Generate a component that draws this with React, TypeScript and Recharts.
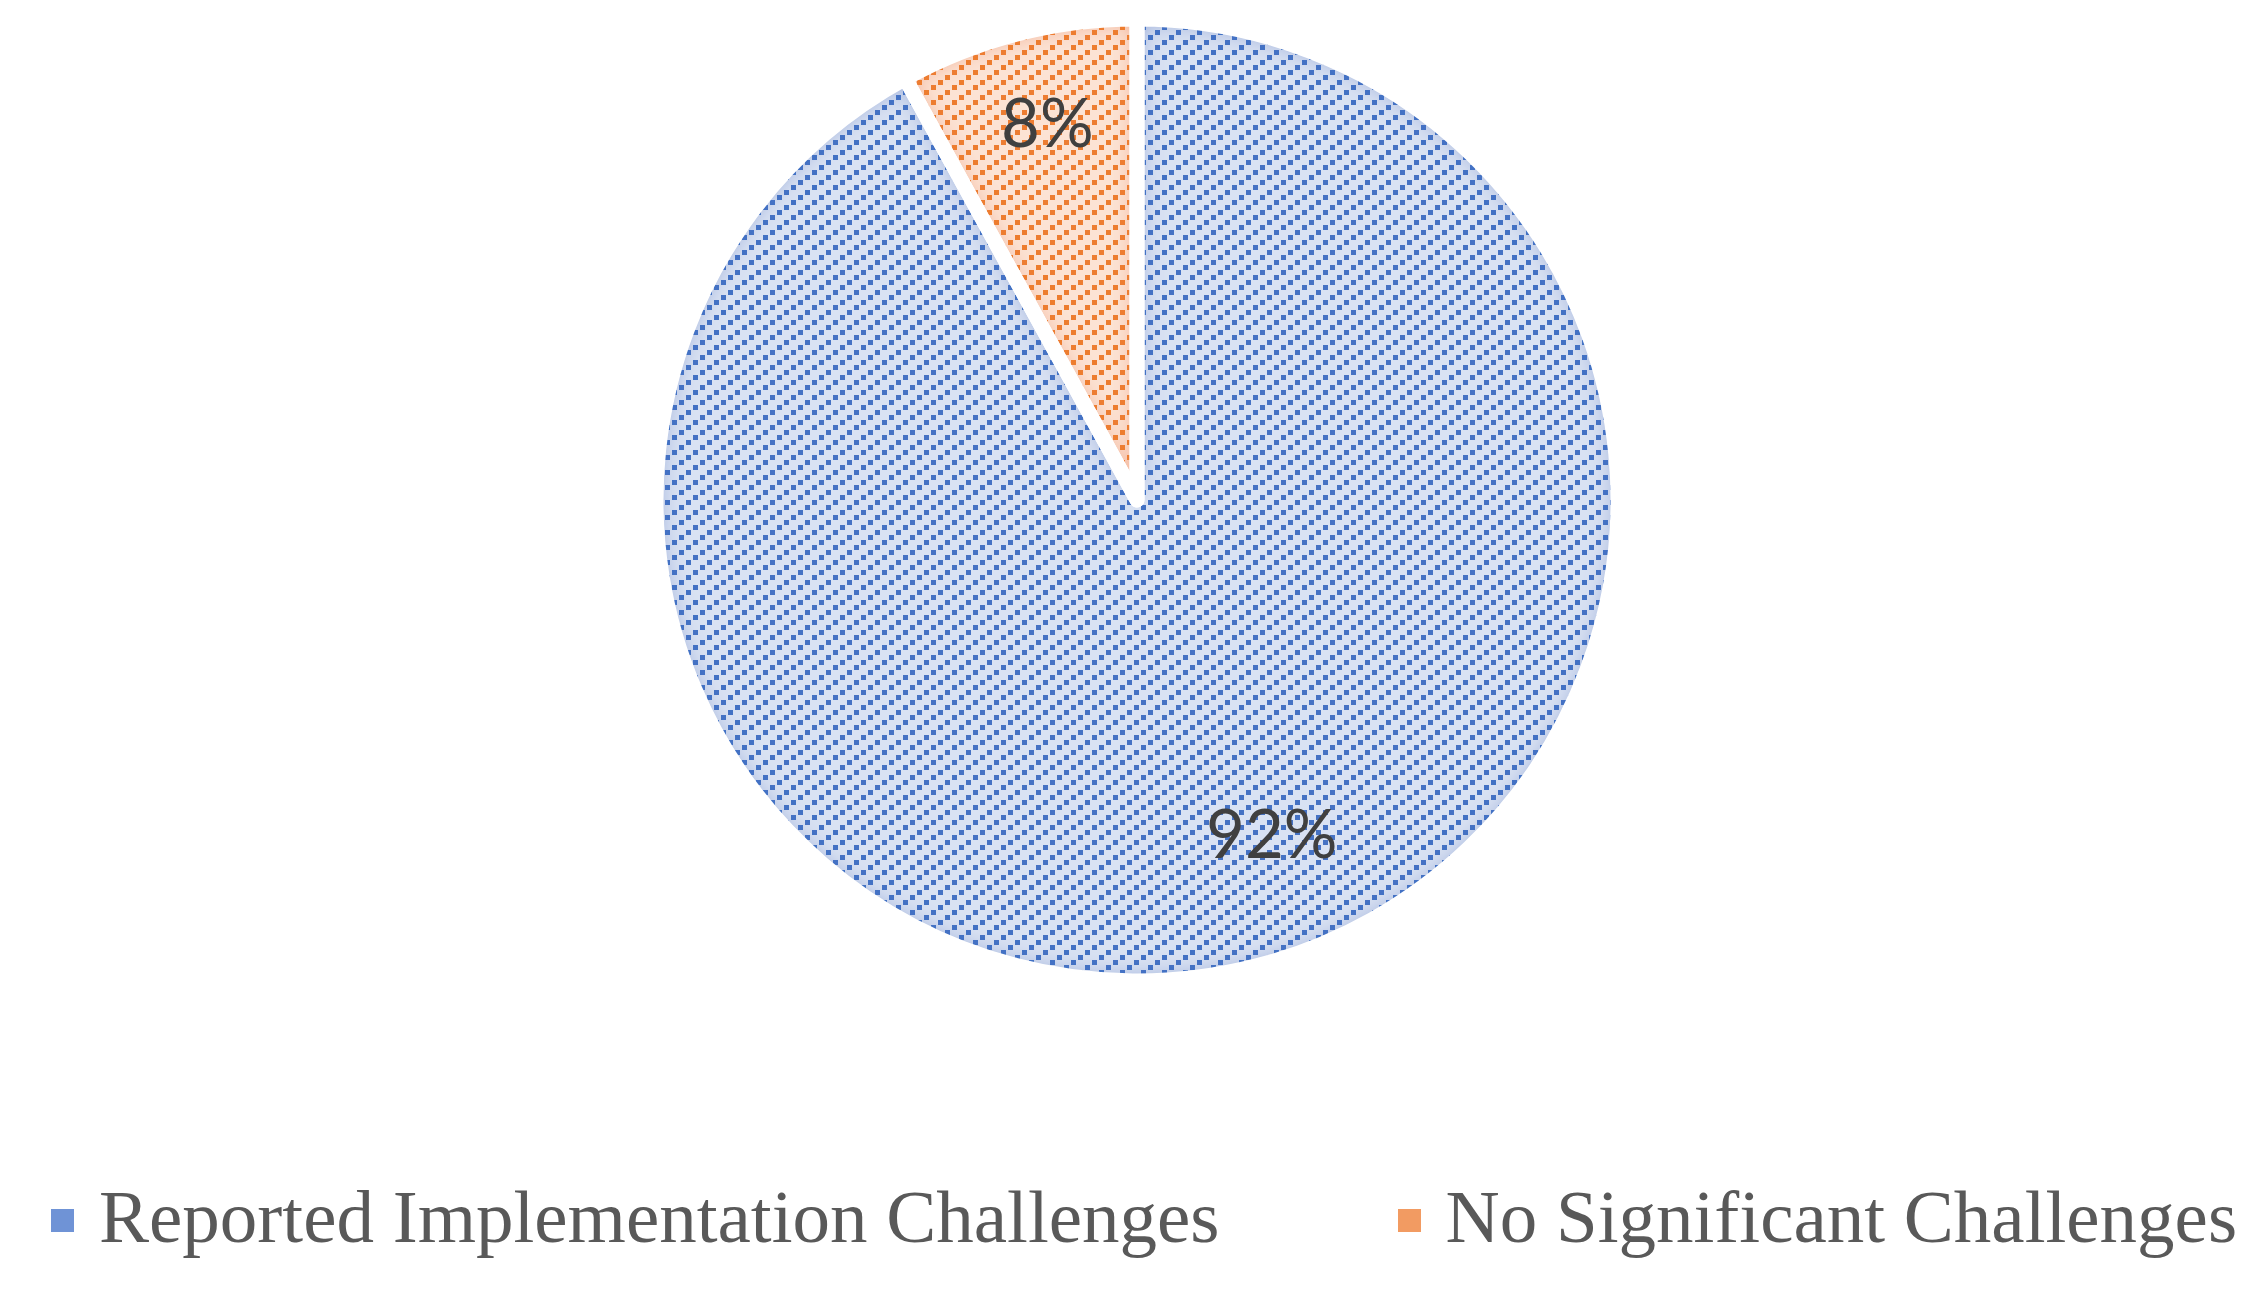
import React from 'react';
import { PieChart, Pie, Cell, Legend } from 'recharts';

// Survey split shown in the chart
const categories = ['Reported Implementation Challenges', 'No Significant Challenges'];
const shares = [92, 8];

const data = categories.map((name, i) => ({ name, value: shares[i] }));

const W = 2266;
const H = 1303;
const CX = 1137;
const CY = 500;
const R = 481;
const RADIAN = Math.PI / 180;

const patternIds = ['dotsBlue', 'dotsOrange'];
const glowIds = ['glowBlue', 'glowOrange'];
const markerColors = ['#6f93d6', '#f29b62'];

// Excel "best fit" puts the big label a bit off its mid angle
const labelPlacement = [
  { shift: 7.7, radius: 0.745 },
  { shift: -1.1, radius: 0.81 },
];

const renderLabel = (props: any) => {
  const { cx, cy, midAngle, outerRadius, index, value } = props;
  const place = labelPlacement[index] || { shift: 0, radius: 0.75 };
  const a = (midAngle + place.shift) * RADIAN;
  const r = outerRadius * place.radius;
  const x = cx + r * Math.cos(-a);
  const y = cy + r * Math.sin(-a);
  return (
    <text
      x={x}
      y={y}
      fill="#404040"
      textAnchor="middle"
      dominantBaseline="central"
      style={{ fontFamily: 'Lato, "Open Sans", sans-serif', fontSize: 67 }}
    >
      {`${value}%`}
    </text>
  );
};

const renderLegend = () => (
  <div style={{ display: 'flex', alignItems: 'flex-start', paddingLeft: 51 }}>
    {categories.map((name, i) => (
      <div key={name} style={{ display: 'flex', alignItems: 'flex-start', marginRight: i === 0 ? 178 : 0 }}>
        <div style={{ width: 23, height: 23, marginTop: 30, marginRight: 25, background: markerColors[i] }} />
        <span
          style={{
            fontFamily: '"Liberation Serif", "Times New Roman", serif',
            fontSize: 75,
            lineHeight: 1,
            color: '#595959',
            whiteSpace: 'nowrap',
          }}
        >
          {name}
        </span>
      </div>
    ))}
  </div>
);

const Dots = ({ id, bg, dot }: { id: string; bg: string; dot: string }) => (
  <pattern id={id} patternUnits="userSpaceOnUse" width={21} height={15}>
    <rect x={0} y={0} width={21} height={15} fill={bg} />
    <rect x={0} y={0} width={5} height={5} fill={dot} />
    <rect x={7} y={10} width={5} height={5} fill={dot} />
    <rect x={14} y={5} width={5} height={5} fill={dot} />
  </pattern>
);

const Glow = ({ id, color }: { id: string; color: string }) => (
  <filter id={id} x="-10%" y="-10%" width="120%" height="120%">
    <feGaussianBlur in="SourceAlpha" stdDeviation="13" result="blur" />
    <feComposite in="SourceAlpha" in2="blur" operator="out" result="edge" />
    <feFlood floodColor={color} floodOpacity="0.85" result="tint" />
    <feComposite in="tint" in2="edge" operator="in" result="ring" />
    <feMerge>
      <feMergeNode in="SourceGraphic" />
      <feMergeNode in="ring" />
    </feMerge>
  </filter>
);

export default function App() {
  return (
    <div style={{ position: 'absolute', left: 0, top: 0, width: W, height: H, background: '#fff' }}>
      <PieChart width={W} height={H} margin={{ top: 0, right: 0, bottom: 0, left: 0 }}>
        <defs>
          <Dots id="dotsBlue" bg="#d9e2f3" dot="#4472c4" />
          <Dots id="dotsOrange" bg="#fce3d4" dot="#ed7d31" />
          <Glow id="glowBlue" color="#4472c4" />
          <Glow id="glowOrange" color="#ed7d31" />
        </defs>
        <Pie
          data={data}
          dataKey="value"
          nameKey="name"
          cx={CX}
          cy={CY}
          outerRadius={R}
          startAngle={90}
          endAngle={-270}
          stroke="none"
          legendType="none"
          isAnimationActive={false}
        >
          {data.map((d, i) => (
            <Cell key={d.name} fill={`url(#${patternIds[i]})`} filter={`url(#${glowIds[i]})`} />
          ))}
        </Pie>
        <Pie
          data={data}
          dataKey="value"
          nameKey="name"
          cx={CX}
          cy={CY}
          outerRadius={R}
          startAngle={90}
          endAngle={-270}
          fill="none"
          stroke="#ffffff"
          strokeWidth={15}
          strokeLinejoin="round"
          legendType="none"
          label={renderLabel}
          labelLine={false}
          isAnimationActive={false}
        >
          {data.map((d) => (
            <Cell key={d.name} fill="none" stroke="#ffffff" strokeWidth={15} />
          ))}
        </Pie>
        <Legend
          content={renderLegend}
          wrapperStyle={{ position: 'absolute', top: 1179, left: 0, width: W }}
        />
      </PieChart>
    </div>
  );
}
